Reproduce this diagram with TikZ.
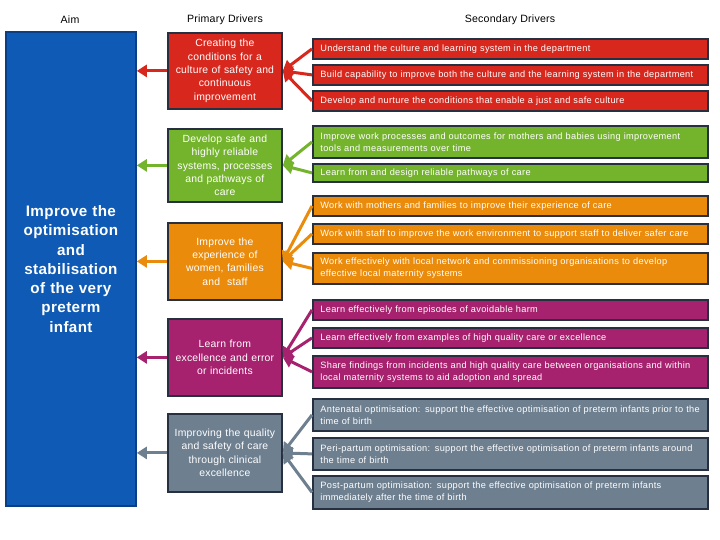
\documentclass[tikz,border=0pt]{standalone}
\usepackage{fontspec}
\setmainfont{Liberation Sans}
\newfontfamily\secfont[LetterSpace=3.5]{Liberation Sans}
\newfontfamily\primfont[LetterSpace=2.0]{Liberation Sans}
\newfontfamily\aimfont[LetterSpace=2.5]{Liberation Sans}
\usetikzlibrary{arrows.meta}
\definecolor{aimblue}{HTML}{0E5AB4}
\definecolor{aimedge}{HTML}{0A3F86}
\definecolor{cred}{HTML}{D8281E}
\definecolor{cgreen}{HTML}{74B42C}
\definecolor{corange}{HTML}{EA8B0C}
\definecolor{cpurple}{HTML}{A6226E}
\definecolor{cgray}{HTML}{6E7F90}
\definecolor{edge}{HTML}{263040}
\tikzset{
  box/.style={draw=edge, line width=1.8pt, anchor=north west, inner sep=0pt, text=white},
  prim/.style={box, minimum width=114pt, text width=110pt, align=center, font=\primfont\fontsize{10.4}{13.3}\selectfont},
  sec/.style={box, minimum width=395pt, text width=380pt, align=left, font=\secfont\fontsize{9.2}{12}\selectfont},
  hdr/.style={font=\primfont\fontsize{10.6}{12}\selectfont, text=black},
  arr/.style={line width=3pt, -{Triangle[length=10pt,width=12pt]}},
}
\begin{document}
\begin{tikzpicture}[x=1pt,y=-1pt]
\useasboundingbox[fill=white] (0,0) rectangle (720,540);
% headers
\node[hdr] (h1) at (70,20) {Aim};
\node[hdr] (h2) at (225,20) {Primary Drivers};
\node[hdr] (h3) at (510,20) {Secondary Drivers};
% aim
\node[box, draw=aimedge, fill=aimblue, minimum width=130pt, minimum height=474pt, text width=128pt, align=center, font=\aimfont\fontsize{15.2}{19.3}\selectfont\bfseries] (aim) at (5,31)
  {Improve the\\optimisation\\and\\stabilisation\\of the very\\preterm\\infant};
% primary
\node[prim, fill=cred, minimum height=76pt] (p1) at (167,32) {Creating the\\conditions for a\\culture of safety and\\continuous\\improvement};
\node[prim, fill=cgreen, minimum height=73pt] (p2) at (167,128) {Develop safe and\\highly reliable\\systems, processes\\and pathways of\\care};
\node[prim, fill=corange, minimum height=77pt] (p3) at (167,222) {Improve the\\experience of\\women, families\\and\ \ staff};
\node[prim, fill=cpurple, minimum height=77pt] (p4) at (167,318) {Learn from\\excellence and error\\or incidents};
\node[prim, fill=cgray, minimum height=78pt] (p5) at (167,413) {Improving the quality\\and safety of care\\through clinical\\excellence};
% secondary
\node[sec, fill=cred, minimum height=20pt] (s1) at (312,38) {Understand the culture and learning system in the department};
\node[sec, fill=cred, minimum height=20pt] (s2) at (312,64) {Build capability to improve both the culture and the learning system in the department};
\node[sec, fill=cred, minimum height=20pt] (s3) at (312,90) {Develop and nurture the conditions that enable a just and safe culture};
\node[sec, fill=cgreen, minimum height=32pt] (s4) at (312,125) {Improve work processes and outcomes for mothers and babies using improvement\\tools and measurements over time};
\node[sec, fill=cgreen, minimum height=18pt] (s5) at (312,163) {Learn from and design reliable pathways of care};
\node[sec, fill=corange, minimum height=20pt] (s6) at (312,195) {Work with mothers and families to improve their experience of care};
\node[sec, fill=corange, minimum height=20pt] (s7) at (312,223) {Work with staff to improve the work environment to support staff to deliver safer care};
\node[sec, fill=corange, minimum height=31pt] (s8) at (312,252) {Work effectively with local network and commissioning organisations to develop\\effective local maternity systems};
\node[sec, fill=cpurple, minimum height=20pt] (s9) at (312,299) {Learn effectively from episodes of avoidable harm};
\node[sec, fill=cpurple, minimum height=20pt] (s10) at (312,327) {Learn effectively from examples of high quality care or excellence};
\node[sec, fill=cpurple, minimum height=32pt] (s11) at (312,355) {Share findings from incidents and high quality care between organisations and within\\local maternity systems to aid adoption and spread};
\node[sec, fill=cgray, minimum height=32pt] (s12) at (312,398) {Antenatal optimisation: support the effective optimisation of preterm infants prior to the\\time of birth};
\node[sec, fill=cgray, minimum height=32pt] (s13) at (312,437) {Peri-partum optimisation: support the effective optimisation of preterm infants around\\the time of birth};
\node[sec, fill=cgray, minimum height=33pt] (s14) at (312,475) {Post-partum optimisation: support the effective optimisation of preterm infants\\immediately after the time of birth};
% primary to aim
\draw[arr, cred] (p1.west) -- (p1.west -| aim.east);
\draw[arr, cgreen] (p2.west) -- (p2.west -| aim.east);
\draw[arr, corange] (p3.west) -- (p3.west -| aim.east);
\draw[arr, cpurple] (p4.west) -- (p4.west -| aim.east);
\draw[arr, cgray] (p5.west) -- (p5.west -| aim.east);
% secondary to primary
\foreach \s in {s1,s2,s3} \draw[arr, cred] (\s.west) -- (p1.east);
\foreach \s in {s4,s5} \draw[arr, cgreen] (\s.west) -- (p2.east);
\foreach \s in {s6,s7,s8} \draw[arr, corange] (\s.west) -- (p3.east);
\foreach \s in {s9,s10,s11} \draw[arr, cpurple] (\s.west) -- (p4.east);
\foreach \s in {s12,s13,s14} \draw[arr, cgray] (\s.west) -- (p5.east);
\end{tikzpicture}
\end{document}
